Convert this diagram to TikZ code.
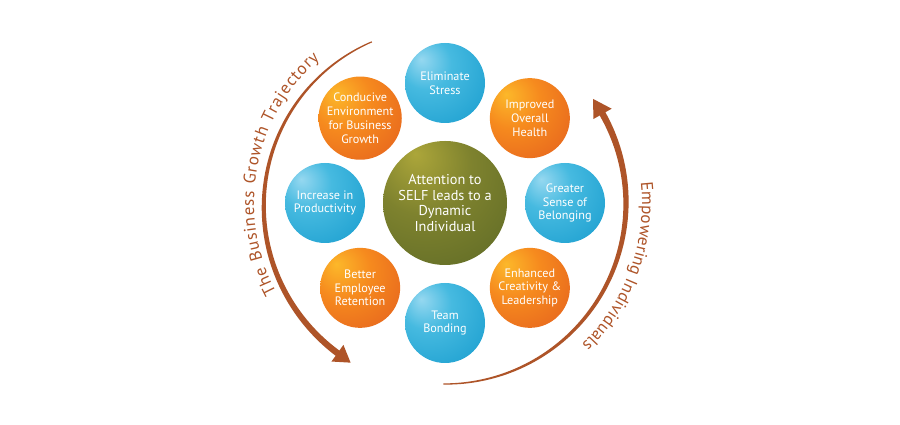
\documentclass[tikz,border=0pt]{standalone}
\usepackage{fontspec}
\setmainfont{PT Sans}
\usetikzlibrary{decorations.text}
\definecolor{arcbrown}{RGB}{174,84,40}
\definecolor{bhi}{RGB}{150,216,240}
\definecolor{bmid}{RGB}{70,186,224}
\definecolor{blo}{RGB}{14,150,202}
\definecolor{ohi}{RGB}{252,184,42}
\definecolor{omid}{RGB}{246,138,30}
\definecolor{olo}{RGB}{224,86,30}
\definecolor{ghi}{RGB}{172,166,58}
\definecolor{gmid}{RGB}{126,130,46}
\definecolor{glo}{RGB}{78,94,34}
\pgfdeclareradialshading{blueball}{\pgfpoint{-15bp}{15bp}}{color(0bp)=(bhi); color(16bp)=(bmid); color(52bp)=(blo); color(80bp)=(blo)}
\pgfdeclareradialshading{orangeball}{\pgfpoint{-15bp}{15bp}}{color(0bp)=(ohi); color(18bp)=(omid); color(52bp)=(olo); color(80bp)=(olo)}
\pgfdeclareradialshading{greenball}{\pgfpoint{-12bp}{20bp}}{color(0bp)=(ghi); color(20bp)=(gmid); color(60bp)=(glo); color(85bp)=(glo)}
\begin{document}
\begin{tikzpicture}[x=1pt,y=1pt,
  bub/.style={circle, minimum size=80pt, inner sep=0pt, align=center, text=white,
    font=\fontsize{12.2}{13.8}\selectfont},
  bluebub/.style={bub, shade, shading=blueball},
  orangebub/.style={bub, shade, shading=orangeball},
  corebub/.style={circle, minimum size=124pt, inner sep=0pt, align=center, text=white,
    font=\fontsize{14.3}{15.4}\selectfont, shade, shading=greenball},
  arctext/.style={decorate, decoration={text along path, text align={fit to path}, text color=arcbrown,
      text={|\fontsize{17}{17}\selectfont|#1}}},
  declare function={rl(\t)=177+8*(\t-114.4)/125; wl(\t)=0.6+2.6*(\t-114.4)/120; wr(\t)=0.6+2.7*(\t+90.5)/121;}
]
\useasboundingbox (0,0) rectangle (900,425);
\fill[white] (0,0) rectangle (900,425);
\begin{scope}[shift={(445,222)}]
  % bubbles
  \node[corebub] (core) at (0,0) {Attention to\\SELF leads to a\\Dynamic\\Individual};
  \node[bluebub] (stress) at (90:120) {Eliminate\\Stress};
  \node[orangebub] (health) at (45:120) {Improved\\Overall\\Health};
  \node[bluebub] (belong) at (0:120) {Greater\\Sense of\\Belonging};
  \node[orangebub] (creat) at (-45:120) {Enhanced\\Creativity \&\\Leadership};
  \node[bluebub] (team) at (-90:120) {Team\\Bonding};
  \node[orangebub] (retain) at (-135:120) {Better\\Employee\\Retention};
  \node[bluebub] (prod) at (180:120) {Increase in\\Productivity};
  \node[orangebub] (cond) at (135:120) {Conducive\\Environment\\for Business\\Growth};
  % left tapered arc
  \fill[arcbrown] plot[domain=114.4:235, samples=90, variable=\t]
      ({(rl(\t)+wl(\t))*cos(\t)}, {(rl(\t)+wl(\t))*sin(\t)})
    -- plot[domain=235:114.4, samples=90, variable=\t]
      ({(rl(\t)-wl(\t))*cos(\t)}, {(rl(\t)-wl(\t))*sin(\t)}) -- cycle;
  \fill[arcbrown] (239.4:185.5) -- (234.4:195) -- (234.4:174.5) -- cycle;
  % right tapered arc
  \fill[arcbrown] plot[domain=-90.5:30.2, samples=90, variable=\t]
      ({(181+wr(\t))*cos(\t)}, {(181+wr(\t))*sin(\t)})
    -- plot[domain=30.2:-90.5, samples=90, variable=\t]
      ({(181-wr(\t))*cos(\t)}, {(181-wr(\t))*sin(\t)}) -- cycle;
  \fill[arcbrown] (35.1:181) -- (29.5:191.5) -- (29.5:170.5) -- cycle;
  % texts along arcs
  \path[arctext={The Business Growth Trajectory}]
      (208:191) arc[start angle=208, end angle=131, radius=191];
  \path[arctext={Empowering Individuals}]
      (6:197) arc[start angle=6, end angle=-46, radius=197];
\end{scope}
\end{tikzpicture}
\end{document}
